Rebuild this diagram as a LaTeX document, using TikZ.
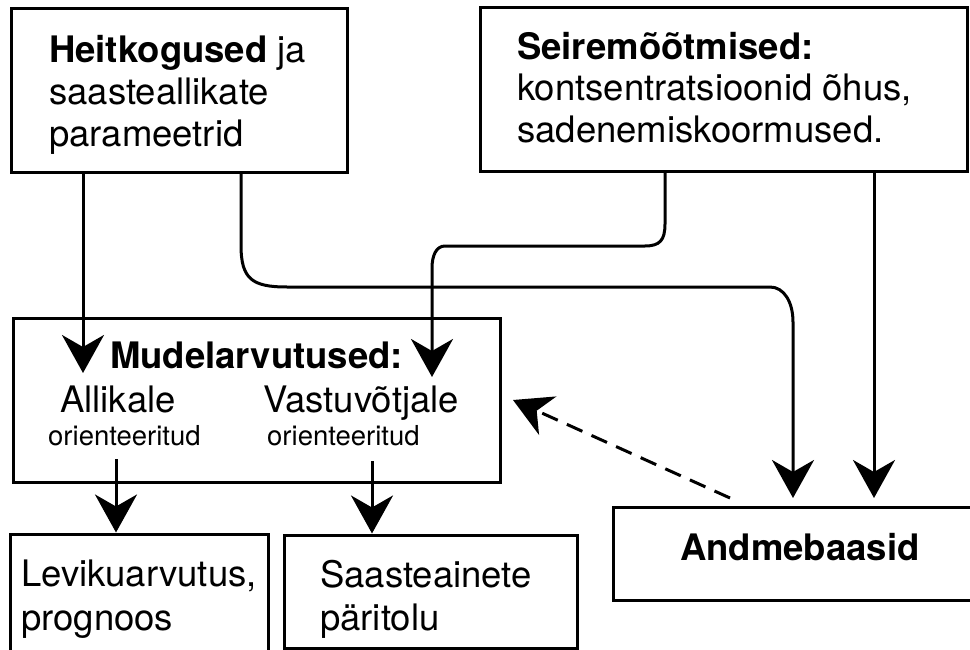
\documentclass[tikz,border=0pt]{standalone}
\usepackage{fontspec}
\setmainfont{TeX Gyre Heros}
\usetikzlibrary{arrows.meta}
\begin{document}
\begin{tikzpicture}[x=1pt,y=-1pt,
  box/.style={draw, line width=3pt, rectangle, inner sep=0pt, outer sep=0pt, anchor=north west},
  big/.style={inner sep=0pt, anchor=base west, font=\fontsize{36.5}{42}\selectfont},
  small/.style={inner sep=0pt, anchor=base west, font=\fontsize{27.5}{32}\selectfont},
  link/.style={line width=3pt, -{Stealth[length=38pt,width=42pt,inset=12pt]}},
  hint/.style={link, dash pattern=on 17pt off 10pt}
]
\useasboundingbox (0,0) rectangle (970,650);
\clip (0,0) rectangle (970,650);

% boxes
\node[box, minimum width=336pt, minimum height=164pt] (src) at (11,9) {};
\node[box, minimum width=487pt, minimum height=164pt] (obs) at (480,8) {};
\node[box, minimum width=487pt, minimum height=164pt] (model) at (13,318) {};
\node[box, minimum width=258pt, minimum height=135pt] (disp) at (10,534) {};
\node[box, minimum width=293pt, minimum height=113pt] (orig) at (284,535) {};
\node[box, minimum width=380pt, minimum height=93pt] (db) at (613,507) {};

% texts
\node[big] (src1) at (49,63) {\textbf{Heitkogused} ja};
\node[big] (src2) at (49,105) {saasteallikate};
\node[big] (src3) at (49,147) {parameetrid};

\node[big] (obs1) at (517,60) {\textbf{Seiremõõtmised:}};
\node[big] (obs2) at (517,101) {kontsentratsioonid õhus,};
\node[big] (obs3) at (517,143) {sadenemiskoormused.};

\node[big] (mod1) at (110,368) {\textbf{Mudelarvutused:}};
\node[big] (mod2) at (60,412) {Allikale};
\node[big] (mod3) at (263,412) {Vastuvõtjale};
\node[small] (mod4) at (48,445) {orienteeritud};
\node[small] (mod5) at (267,445) {orienteeritud};

\node[big] (disp1) at (21,586) {Levikuarvutus,};
\node[big] (disp2) at (21,630) {prognoos};

\node[big] (orig1) at (320,587) {Saasteainete};
\node[big] (orig2) at (320,630) {päritolu};

\node[big] (db1) at (680,560) {\textbf{Andmebaasid}};

% free ends of connectors
\coordinate (inA) at (83,373);
\coordinate (inB) at (432,377);
\coordinate (dbA) at (793,498);
\coordinate (dbB) at (874,498);
\coordinate (outA) at (116,459);
\coordinate (outB) at (372,461);
\coordinate (hintS) at (730,498);
\coordinate (hintE) at (513,400);

% connectors
\draw[link] (src.south -| inA) -- (inA);
\draw[link] (src.south -| 241,0) -- (241,245)
  .. controls (241,279) and (252,287) .. (287,287) -- (770,287)
  .. controls (784,287) and (793,302) .. (793,322) -- (dbA);
\draw[link] (obs.south -| 665,0) -- (665,224)
  .. controls (665,240) and (660,246) .. (645,246) -- (445,246)
  .. controls (436,246) and (432,256) .. (432,268) -- (inB);
\draw[link] (obs.south -| dbB) -- (dbB);
\draw[link, shorten >=1.5pt] (outA) -- (outA |- disp.north);
\draw[link, shorten >=1.5pt] (outB) -- (outB |- orig.north);
\draw[hint] (hintS) -- (hintE);
\end{tikzpicture}
\end{document}
